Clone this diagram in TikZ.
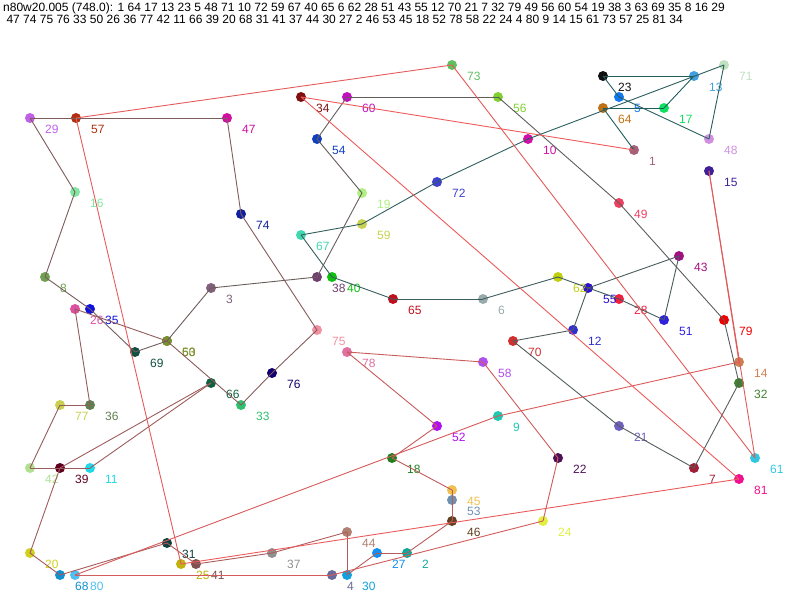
\documentclass[tikz,border=0pt]{standalone}
\usepackage{fontspec}
\setmainfont{Liberation Sans}
\usepackage{tikz}
\usetikzlibrary{calc}
\definecolor{tourstart}{HTML}{1A5E5E}
\definecolor{tourend}{HTML}{F05A5A}

\begin{document}
\begin{tikzpicture}[
  x=1pt, y=-1pt,
  city/.style={circle, minimum size=10pt, inner sep=0pt},
  lab/.style={anchor=base west, inner sep=0pt, font=\fontsize{12}{12}\selectfont},
  edge/.style={line width=0.9pt}
]
  \useasboundingbox (0,0) rectangle (800,600);

  % Header: instance, length and tour
  \node[anchor=north west, inner sep=0pt, align=left,
        font=\fontsize{12}{11.5}\selectfont] (title) at (3,3)
    {n80w20.005 (748.0): 1 64 17 13 23 5 48 71 10 72 59 67 40 65 6 62 28 51 43 55 12 70 21 7 32 79 49 56 60 54 19 38 3 63 69 35 8 16 29\\
     \ 47 74 75 76 33 50 26 36 77 42 11 66 39 20 68 31 41 37 44 30 27 2 46 53 45 18 52 78 58 22 24 4 80 9 14 15 61 73 57 25 81 34};

  % Cities
  \foreach \n/\x/\y/\hex in {
    1/634/150/A8607A, 2/407/553/10A898, 3/211/288/80607A, 4/332/575/6A6A98,
    5/619/97/1078F0, 6/483/299/98AAAA, 7/694/468/A02038, 8/45/277/70A050,
    9/498/416/20C8B0, 10/528/139/D010A8, 11/90/468/20D8E8, 12/573/330/3030D0,
    13/694/76/40A0E0, 14/739/362/D08050, 15/709/171/402098, 16/75/192/80E8A0,
    17/664/108/10E060, 18/392/458/208020, 19/362/193/B0F080, 20/30/553/D0D020,
    21/619/426/7060C0, 22/558/458/501058, 23/603/76/101010, 24/543/521/E0F040,
    25/181/564/C0B010, 26/75/309/E050A0, 27/377/553/1090F0, 28/619/299/F02040,
    29/30/118/C060E8, 30/347/575/10A0E0, 31/167/543/104040, 32/739/383/408030,
    33/241/405/30C070, 34/301/97/801010, 35/90/309/1010E0, 36/90/405/608050,
    37/272/553/909090, 38/317/277/704070, 39/60/468/600020, 40/332/277/10C010,
    41/196/564/805050, 42/30/468/B0E090, 43/679/256/A01080, 44/347/532/B08070,
    45/452/490/F0C050, 46/452/521/604020, 47/227/118/D010A0, 48/709/139/D090E0,
    49/619/203/F04060, 50/167/341/809020, 51/664/320/3020E0, 52/437/426/B010F0,
    53/452/500/7090B0, 54/317/139/1040C0, 55/588/288/3010D0, 56/498/97/80D030,
    57/76/118/B03010, 58/483/362/B050F0, 59/362/224/C8D050, 60/347/97/C010C0,
    61/755/458/30C8E0, 62/558/277/C0D010, 63/167/341/789030, 64/603/108/C07010,
    65/393/299/C01020, 66/211/383/106040, 67/301/235/40D8B0, 68/60/575/1090D0,
    69/135/352/105040, 70/513/341/D03030, 71/724/65/C0E0C0, 72/437/182/4040D0,
    73/452/65/60C060, 74/241/214/1020A0, 75/317/330/F090A0, 76/272/373/100070,
    77/60/405/C8D050, 78/347/352/E070A0, 79/724/320/F00000, 80/75/575/50C0F0,
    81/739/479/F01090} {
    \definecolor{cc}{HTML}{\hex}
    \node[city, fill=cc] (n\n) at (\x,\y) {};
    \node[lab, text=cc] (l\n) at (\x+15,\y+15) {\n};
  }

  % Tour, coloured from first to last edge
  \foreach \c [count=\i, remember=\c as \prev (initially 1)] in {
    64,17,13,23,5,48,71,10,72,59,67,40,65,6,62,28,51,43,55,12,70,21,7,32,79,
    49,56,60,54,19,38,3,63,69,35,8,16,29,47,74,75,76,33,50,26,36,77,42,11,66,
    39,20,68,31,41,37,44,30,27,2,46,53,45,18,52,78,58,22,24,4,80,9,14,15,61,
    73,57,25,81,34,1} {
    \pgfmathtruncatemacro{\mix}{100*(\i-1)/80}
    \draw[edge, draw=tourend!\mix!tourstart] (n\prev.center) -- (n\c.center);
  }
\end{tikzpicture}
\end{document}
